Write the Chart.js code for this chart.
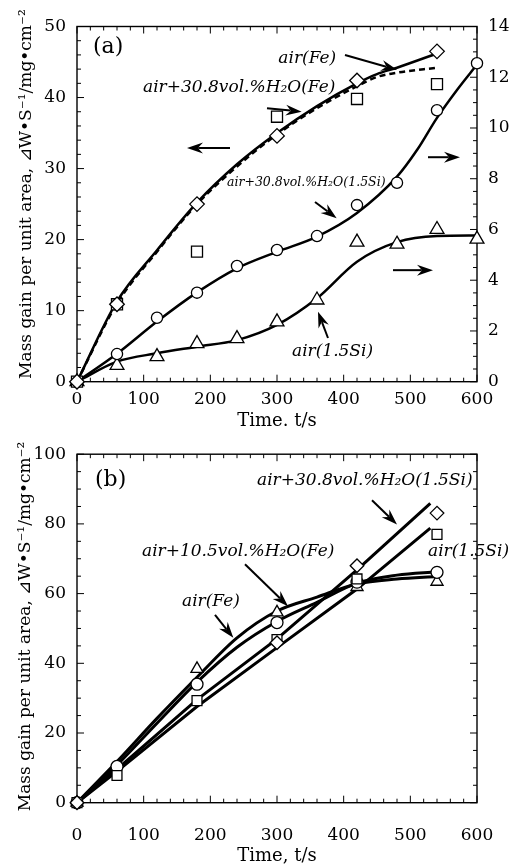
<!DOCTYPE html>
<html>
<head>
<meta charset="utf-8">
<script src="https://cdn.jsdelivr.net/npm/chart.js@4.4.0/dist/chart.umd.min.js"></script>
<style>
  html, body { margin: 0; padding: 0; background: #fff; }
  #wrap { position: relative; width: 518px; height: 867px; }
  .panel { position: absolute; left: 0; width: 518px; }
  #panelA { top: 0; height: 433px; }
  #panelB { top: 433px; height: 434px; }
</style>
</head>
<body>
<div id="wrap">
  <div class="panel" id="panelA"><canvas id="chartA" width="518" height="433"></canvas></div>
  <div class="panel" id="panelB"><canvas id="chartB" width="518" height="434"></canvas></div>
</div>
<script>
// ---- panel (a) measured points ----
const timeA = [0, 60, 180, 300, 420, 540];
const airFeA = [0, 10.9, 25.0, 34.6, 42.4, 46.5];
const wetFeA = [0, 10.9, 18.3, 37.3, 39.8, 41.9];
const timeSiA = [0, 60, 120, 180, 240, 300, 360, 420, 480, 540, 600];
const wetSiA = [0, 1.09, 2.52, 3.51, 4.56, 5.19, 5.74, 6.96, 7.84, 10.7, 12.55];
const airSiA = [0, 0.64, 0.99, 1.5, 1.7, 2.36, 3.22, 5.5, 5.42, 6.0, 5.62];

// ---- panel (a) fitted curves ----
const fitTimeFe = [0, 60, 120, 180, 240, 300, 360, 420, 450, 480, 540];
const fitAirFe = [0, 11.3, 18.5, 25.2, 30.6, 35.0, 38.8, 42.0, 43.3, 44.2, 46.2];
const fitWetFe = [0, 11.0, 18.3, 25.0, 30.3, 34.8, 38.5, 41.6, 42.9, 43.5, 44.2];
const fitTimeWetSi = [0, 60, 120, 180, 240, 300, 360, 420, 480, 510, 540, 570, 600];
const fitWetSi = [0, 1.1, 2.37, 3.52, 4.47, 5.12, 5.72, 6.65, 8.08, 9.13, 10.4, 11.5, 12.5];
const fitTimeAirSi = [0, 60, 120, 180, 240, 300, 360, 420, 480, 540, 600];
const fitAirSi = [0, 0.79, 1.12, 1.38, 1.64, 2.24, 3.29, 4.73, 5.5, 5.74, 5.76];

// ---- panel (b) measured points ----
const timeB = [0, 60, 180, 300, 420, 540];
const squareB = [0, 7.8, 29.3, 46.8, 64.2, 77.0];
const circleB = [0, 10.4, 34.0, 51.7, 63.3, 66.1];
const timeTriB = [0, 180, 300, 420, 540];
const triangleB = [0, 38.4, 54.6, 61.9, 63.4];
const timeDiaB = [0, 300, 420, 540];
const diamondB = [0, 45.9, 68.0, 83.1];

// ---- panel (b) drawn lines ----
const lineTimeB = [0, 60, 180, 300, 420, 530];
const lineDiaB = [0, 9.6, 29.6, 47.0, 66.8, 85.9];
const lineSqB = [0, 9.0, 27.6, 44.5, 61.3, 78.8];
const curveTimeB = [0, 60, 120, 180, 240, 300, 360, 420, 480, 540];
const curveTriB = [0, 11.8, 24.2, 36.0, 47.3, 55.0, 59.0, 62.8, 64.2, 64.9];
const curveCirB = [0, 10.8, 22.8, 34.6, 44.6, 52.0, 57.5, 63.0, 65.3, 66.3];

// tick labels
const xTicks = [0, 100, 200, 300, 400, 500, 600];
const yTicksA = [0, 10, 20, 30, 40, 50];
const y2TicksA = [0, 2, 4, 6, 8, 10, 12, 14];
const yTicksB = [0, 20, 40, 60, 80, 100];

const SERIF = "'DejaVu Serif', 'Liberation Serif', serif";
Chart.defaults.font.family = SERIF;
Chart.defaults.color = '#000';

function pts(xs, ys) {
  return xs.map((x, i) => ({ x: x, y: ys[i] }));
}

function markers(label, xs, ys, style, r, axis) {
  return {
    label: label, data: pts(xs, ys), yAxisID: axis, showLine: false,
    pointStyle: style, pointRadius: r, pointBackgroundColor: '#fff',
    pointBorderColor: '#000', pointBorderWidth: 1.3, clip: false
  };
}

function curve(label, xs, ys, axis, width, dash, smooth) {
  return {
    label: label, data: pts(xs, ys), yAxisID: axis, pointRadius: 0,
    borderColor: '#000', borderWidth: width, borderDash: dash || [],
    cubicInterpolationMode: smooth ? 'monotone' : 'default', tension: 0,
    fill: false
  };
}

function drawArrow(ctx, x1, y1, x2, y2) {
  const ang = Math.atan2(y2 - y1, x2 - x1);
  const c = Math.cos(ang), s = Math.sin(ang);
  const head = 16, half = 5.5;
  ctx.lineWidth = 2;
  ctx.beginPath();
  ctx.moveTo(x1, y1);
  ctx.lineTo(x2 - c * head * 0.7, y2 - s * head * 0.7);
  ctx.stroke();
  ctx.beginPath();
  ctx.moveTo(x2, y2);
  ctx.lineTo(x2 - head * c + half * s, y2 - head * s - half * c);
  ctx.lineTo(x2 - head * 0.68 * c, y2 - head * 0.68 * s);
  ctx.lineTo(x2 - head * c - half * s, y2 - head * s + half * c);
  ctx.closePath();
  ctx.fill();
}

// frame with inward ticks on all four sides
const frameTicks = {
  id: 'frameTicks',
  beforeDatasetsDraw(chart, args, opts) {
    const { ctx, chartArea: a, scales } = chart;
    ctx.save();
    ctx.strokeStyle = '#000';
    ctx.lineWidth = 1;
    ctx.beginPath();
    const sx = scales.x;
    for (let v = sx.min; v <= sx.max + 1e-6; v += opts.xMinor) {
      const px = sx.getPixelForValue(v);
      const len = Math.abs(v % opts.xMajor) < 1e-6 ? 7 : 4;
      ctx.moveTo(px, a.bottom); ctx.lineTo(px, a.bottom - len);
      ctx.moveTo(px, a.top); ctx.lineTo(px, a.top + len);
    }
    const sl = scales.y;
    const sr = scales.y2 || scales.y;
    const rMinor = opts.y2Minor || opts.yMinor, rMajor = opts.y2Major || opts.yMajor;
    for (let v = sl.min; v <= sl.max + 1e-6; v += opts.yMinor) {
      const py = sl.getPixelForValue(v);
      const len = Math.abs(v % opts.yMajor) < 1e-6 ? 7 : 4;
      ctx.moveTo(a.left, py); ctx.lineTo(a.left + len, py);
    }
    for (let v = sr.min; v <= sr.max + 1e-6; v += rMinor) {
      const py = sr.getPixelForValue(v);
      const len = Math.abs(v % rMajor) < 1e-6 ? 7 : 4;
      ctx.moveTo(a.right, py); ctx.lineTo(a.right - len, py);
    }
    ctx.stroke();
    ctx.lineWidth = 1.4;
    ctx.strokeRect(a.left, a.top, a.right - a.left, a.bottom - a.top);
    ctx.restore();
  }
};

// labels, arrows and the rotated y title
const notes = {
  id: 'notes',
  afterDraw(chart, args, opts) {
    const { ctx, chartArea: a, scales } = chart;
    ctx.save();
    ctx.fillStyle = '#000';
    ctx.strokeStyle = '#000';
    (opts.items || []).forEach(it => {
      const ys = scales[it.axis || 'y'];
      if (it.text) {
        ctx.font = it.font;
        ctx.textAlign = 'left';
        ctx.textBaseline = 'middle';
        ctx.fillText(it.text, scales.x.getPixelForValue(it.x), ys.getPixelForValue(it.y));
      } else {
        drawArrow(ctx,
          scales.x.getPixelForValue(it.x1), ys.getPixelForValue(it.y1),
          scales.x.getPixelForValue(it.x2), ys.getPixelForValue(it.y2));
      }
    });
    if (opts.yTitle) {
      const t = opts.yTitle;
      ctx.translate(t.x, (a.top + a.bottom) / 2 + t.dy);
      ctx.rotate(-Math.PI / 2);
      ctx.font = t.font;
      ctx.textAlign = 'center';
      ctx.textBaseline = 'middle';
      ctx.fillText(t.text, 0, 0);
    }
    ctx.restore();
  }
};

const yTitleText = 'Mass gain per unit area, \u22BFW\u2022S\u207B\u00B9/mg\u2022cm\u207B\u00B2';
const labelFont = 'italic 17px ' + SERIF;
const smallFont = 'italic 12.5px ' + SERIF;
const tickFont = { family: SERIF, size: 17 };

function xScale(pad, height, title, titlePad) {
  return {
    type: 'linear', min: 0, max: 600,
    afterFit: s => { s.height = height; },
    afterBuildTicks: s => { s.ticks = xTicks.map(v => ({ value: v })); },
    grid: { display: false, drawTicks: false }, border: { display: false },
    ticks: { font: tickFont, padding: pad, maxRotation: 0 },
    title: { display: true, text: title, font: { family: SERIF, size: 18 }, padding: { top: 0, bottom: titlePad } }
  };
}

function yScale(pos, min, max, list, width) {
  return {
    type: 'linear', position: pos, min: min, max: max,
    afterFit: s => { s.width = width; },
    afterBuildTicks: s => { s.ticks = list.map(v => ({ value: v })); },
    grid: { display: false, drawTicks: false }, border: { display: false },
    ticks: { font: tickFont, padding: 11 }
  };
}

// ---------- chart (a) ----------
new Chart(document.getElementById('chartA'), {
  type: 'line',
  data: {
    datasets: [
      markers('air(Fe)', timeA, airFeA, 'rectRot', 7.3, 'y'),
      markers('air+30.8vol.%H2O(Fe)', timeA, wetFeA, 'rect', 7.8, 'y'),
      markers('air+30.8vol.%H2O(1.5Si)', timeSiA, wetSiA, 'circle', 5.6, 'y2'),
      markers('air(1.5Si)', timeSiA, airSiA, 'triangle', 8, 'y2'),
      curve('air(Fe) fit', fitTimeFe, fitAirFe, 'y', 2.5, null, true),
      curve('air+30.8vol.%H2O(Fe) fit', fitTimeFe, fitWetFe, 'y', 2.5, [6, 4], true),
      curve('air+30.8vol.%H2O(1.5Si) fit', fitTimeWetSi, fitWetSi, 'y2', 2.5, null, true),
      curve('air(1.5Si) fit', fitTimeAirSi, fitAirSi, 'y2', 2.5, null, true)
    ]
  },
  options: {
    responsive: false,
    animation: false,
    layout: { autoPadding: false, padding: { top: 26.5, left: 0, right: 0, bottom: 0 } },
    scales: {
      x: xScale(8, 51.3, 'Time. t/s', 0.5),
      y: yScale('left', 0, 50, yTicksA, 77),
      y2: yScale('right', 0, 14, y2TicksA, 41)
    },
    plugins: {
      legend: { display: false },
      tooltip: { enabled: false },
      frameTicks: { xMinor: 20, xMajor: 100, yMinor: 2, yMajor: 10, y2Minor: 0.5, y2Major: 2 },
      notes: {
        yTitle: { text: yTitleText, x: 27, dy: -10, font: '17px ' + SERIF },
        items: [
          { text: '(a)', x: 24, y: 47.1, font: '22px ' + SERIF },
          { text: 'air(Fe)', x: 302, y: 45.5, font: labelFont },
          { x1: 402, y1: 46.0, x2: 480, y2: 43.9 },
          { text: 'air+30.8vol.%H\u2082O(Fe)', x: 99, y: 41.4, font: labelFont },
          { x1: 285, y1: 38.5, x2: 337, y2: 38.0 },
          { x1: 229.5, y1: 32.9, x2: 165, y2: 32.9 },
          { x1: 526.5, y1: 31.6, x2: 574.5, y2: 31.6 },
          { x1: 474, y1: 15.7, x2: 534, y2: 15.7 },
          { text: 'air+30.8vol.%H\u2082O(1.5Si)', x: 225, y: 28.0, font: smallFont },
          { x1: 357, y1: 25.3, x2: 389.5, y2: 23.0 },
          { text: 'air(1.5Si)', x: 322.5, y: 4.2, font: labelFont },
          { x1: 376.5, y1: 6.15, x2: 361.5, y2: 9.86 }
        ]
      }
    }
  },
  plugins: [frameTicks, notes]
});

// ---------- chart (b) ----------
new Chart(document.getElementById('chartB'), {
  type: 'line',
  data: {
    datasets: [
      markers('diamond', timeDiaB, diamondB, 'rectRot', 6.8, 'y'),
      markers('square', timeB, squareB, 'rect', 7, 'y'),
      markers('circle', timeB, circleB, 'circle', 6, 'y'),
      markers('triangle', timeTriB, triangleB, 'triangle', 7, 'y'),
      curve('air+30.8vol.%H2O(1.5Si)', lineTimeB, lineDiaB, 'y', 3, null, false),
      curve('air(1.5Si)', lineTimeB, lineSqB, 'y', 3, null, false),
      curve('air(Fe)', curveTimeB, curveTriB, 'y', 3, null, true),
      curve('air+10.5vol.%H2O(Fe)', curveTimeB, curveCirB, 'y', 3, null, true)
    ]
  },
  options: {
    responsive: false,
    animation: false,
    layout: { autoPadding: false, padding: { top: 15.3, left: 0, right: 41, bottom: 0 } },
    scales: {
      x: xScale(23, 64.3, 'Time, t/s', 0),
      y: yScale('left', 0, 100, yTicksB, 77)
    },
    plugins: {
      legend: { display: false },
      tooltip: { enabled: false },
      frameTicks: { xMinor: 20, xMajor: 100, yMinor: 5, yMajor: 20 },
      notes: {
        yTitle: { text: yTitleText, x: 26, dy: -2, font: '17px ' + SERIF },
        items: [
          { text: '(b)', x: 27, y: 92.5, font: '22px ' + SERIF },
          { text: 'air+30.8vol.%H\u2082O(1.5Si)', x: 270, y: 92.5, font: labelFont },
          { x1: 442.5, y1: 86.8, x2: 480, y2: 79.8 },
          { text: 'air+10.5vol.%H\u2082O(Fe)', x: 97.5, y: 72.2, font: labelFont },
          { x1: 252, y1: 68.4, x2: 316.5, y2: 56.4 },
          { text: 'air(1.5Si)', x: 526.5, y: 72.2, font: labelFont },
          { text: 'air(Fe)', x: 157.5, y: 57.7, font: labelFont },
          { x1: 207, y1: 53.9, x2: 234.5, y2: 47.3 }
        ]
      }
    }
  },
  plugins: [frameTicks, notes]
});
</script>
</body>
</html>
